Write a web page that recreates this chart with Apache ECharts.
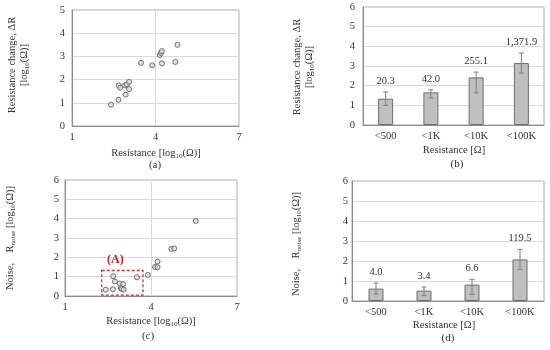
<!DOCTYPE html>
<html><head><meta charset="utf-8">
<script src="https://cdn.jsdelivr.net/npm/echarts@6/dist/echarts.min.js"></script>
<style>html,body{margin:0;padding:0;background:#fff}#c{width:550px;height:350px}</style>
</head><body><div id="c"></div>
<script>
// ---- data ----
const scatterA_x = [2.40,2.67,2.68,2.73,2.93,2.91,2.97,3.05,3.05,3.48,3.88,4.23,4.15,4.20,4.23,4.71,4.79];
const scatterA_y = [0.92,1.13,1.75,1.65,1.35,1.75,1.80,1.90,1.59,2.72,2.62,2.70,3.06,3.15,3.23,2.76,3.50];
const scatterC_x = [2.42,2.67,2.68,2.74,2.91,3.03,2.95,2.98,3.05,3.51,3.89,4.14,4.23,4.23,4.71,4.81,5.56];
const scatterC_y = [0.33,0.35,1.02,0.75,0.64,0.61,0.41,0.36,0.33,0.97,1.09,1.50,1.49,1.78,2.44,2.46,3.88];
const categories = ['<500','<1K','<10K','<100K'];
const barB = [1.34,1.66,2.42,3.15];
const errB_low = [1.00,1.38,1.63,2.64];
const errB_high = [1.68,1.79,2.69,3.66];
const labelsB = ['20.3','42.0','255.1','1,371.9'];
const barD = [0.62,0.52,0.82,2.08];
const errD_low = [0.34,0.27,0.32,1.58];
const errD_high = [0.90,0.70,1.08,2.58];
const labelsD = ['4.0','3.4','6.6','119.5'];
const boxA_x = [2.28,3.72];
const boxA_y = [0.05,1.32];
const logTicks = [1,4,7];

const FF = '"Liberation Serif","Times New Roman",serif';
const TXT = '#333';
const chart = echarts.init(document.getElementById('c'), null, {renderer:'canvas'});

function valAxisX(gi){
  return {type:'value', gridIndex:gi, min:1, max:7, interval:3,
    axisLine:{show:true, lineStyle:{color:'#8c8c8c'}}, axisTick:{show:false},
    axisLabel:{fontFamily:FF, fontSize:10.5, color:TXT, margin:6},
    splitLine:{show:true, lineStyle:{color:'#d9d9d9'}}};
}
function valAxisY(gi, max, margin){
  return {type:'value', gridIndex:gi, min:0, max:max, interval:1,
    axisLine:{show:true, lineStyle:{color:'#8c8c8c'}}, axisTick:{show:false},
    axisLabel:{fontFamily:FF, fontSize:10.5, color:TXT, margin:margin},
    splitLine:{show:true, lineStyle:{color:'#d9d9d9'}}};
}
function catAxis(gi){
  return {type:'category', gridIndex:gi, data:categories,
    axisLine:{show:true, lineStyle:{color:'#8c8c8c'}}, axisTick:{show:false},
    axisLabel:{fontFamily:FF, fontSize:10.5, color:TXT, margin:6}};
}
function errSeries(ai, low, high, labels){
  return {type:'custom', xAxisIndex:ai, yAxisIndex:ai, z:5,
    data: categories.map((c,i)=>[i, low[i], high[i]]),
    renderItem:function(params, api){
      const i = api.value(0);
      const p1 = api.coord([i, api.value(1)]);
      const p2 = api.coord([i, api.value(2)]);
      const cw = 2.5;
      const st = {stroke:'#7f7f7f', lineWidth:1};
      return {type:'group', children:[
        {type:'line', shape:{x1:p1[0],y1:p1[1],x2:p2[0],y2:p2[1]}, style:st},
        {type:'line', shape:{x1:p1[0]-cw,y1:p1[1],x2:p1[0]+cw,y2:p1[1]}, style:st},
        {type:'line', shape:{x1:p2[0]-cw,y1:p2[1],x2:p2[0]+cw,y2:p2[1]}, style:st},
        {type:'text', x:p2[0], y:p2[1]-11, style:{text:labels[params.dataIndex], fill:TXT,
          font:'10.5px '+FF, align:'center', verticalAlign:'middle'}}
      ]};
    }};
}
const scatterStyle = {color:'#d9d9d9', borderColor:'#555', borderWidth:1};
const rich = {
  n:{fontFamily:FF, fontSize:10.5, fill:TXT, color:TXT, lineHeight:14},
  s:{fontFamily:FF, fontSize:7, fill:TXT, color:TXT, lineHeight:7, verticalAlign:'bottom'}
};
function T(x,y,text,rot){
  return {type:'text', x:x, y:y, rotation: rot? Math.PI/2 : 0,
    style:{text:text, rich:rich, align:'center', verticalAlign:'middle', fill:TXT, font:'10.5px '+FF}};
}
const logName = '{n|Resistance [log}{s|10}{n|(Ω)]}';
const noiseName = '{n|Noise,    R}{s|noise}{n| [log}{s|10}{n|(Ω)]}';

chart.setOption({
  animation:false,
  grid:[
    {left:72, top:10, width:167, height:116, show:true, borderColor:'#a6a6a6', borderWidth:1},
    {left:363, top:7, width:181, height:118, show:true, borderColor:'#a6a6a6', borderWidth:1},
    {left:65, top:180, width:172, height:116, show:true, borderColor:'#a6a6a6', borderWidth:1},
    {left:352, top:181, width:192, height:120, show:true, borderColor:'#a6a6a6', borderWidth:1}
  ],
  xAxis:[valAxisX(0), catAxis(1), valAxisX(2), catAxis(3)],
  yAxis:[valAxisY(0,5,7), valAxisY(1,6,8), valAxisY(2,6,6), valAxisY(3,6,4)],
  series:[
    {type:'scatter', xAxisIndex:0, yAxisIndex:0, symbol:'circle', symbolSize:5,
      itemStyle:scatterStyle, data:scatterA_x.map((x,i)=>[x, scatterA_y[i]])},
    {type:'bar', xAxisIndex:1, yAxisIndex:1, barWidth:15, data:barB,
      itemStyle:{color:'#bfbfbf', borderColor:'#6f6f6f', borderWidth:1}},
    errSeries(1, errB_low, errB_high, labelsB),
    {type:'scatter', xAxisIndex:2, yAxisIndex:2, symbol:'circle', symbolSize:5,
      itemStyle:scatterStyle, data:scatterC_x.map((x,i)=>[x, scatterC_y[i]]),
      markArea:{silent:true,
        itemStyle:{color:'rgba(0,0,0,0)', borderColor:'#c0392b', borderWidth:1.3, borderType:[3,2]},
        label:{show:true, position:'top', formatter:'(A)', color:'#b22222', fontWeight:'bold',
          fontFamily:FF, fontSize:12, offset:[-7,-1], distance:3},
        data:[[{coord:[boxA_x[0], boxA_y[1]]},{coord:[boxA_x[1], boxA_y[0]]}]]}},
    {type:'bar', xAxisIndex:3, yAxisIndex:3, barWidth:15, data:barD,
      itemStyle:{color:'#bfbfbf', borderColor:'#6f6f6f', borderWidth:1}},
    errSeries(3, errD_low, errD_high, labelsD)
  ],
  graphic:[
    {type:'text', x:12, y:65, rotation:Math.PI/2, style:{text:'Resistance change, ΔR', font:'10.5px '+FF, fill:TXT, align:'center', verticalAlign:'middle'}},
    T(24,65,'{n|[log}{s|10}{n|(Ω)]}',true),
    T(156,153,logName,false),
    {type:'text', x:155, y:165, style:{text:'(a)', font:'11px '+FF, fill:TXT, align:'center', verticalAlign:'middle'}},
    {type:'text', x:297, y:67, rotation:Math.PI/2, style:{text:'Resistance change, ΔR', font:'10.5px '+FF, fill:TXT, align:'center', verticalAlign:'middle'}},
    T(309,67,'{n|[log}{s|10}{n|(Ω)]}',true),
    {type:'text', x:454, y:150, style:{text:'Resistance [Ω]', font:'10.5px '+FF, fill:TXT, align:'center', verticalAlign:'middle'}},
    {type:'text', x:457, y:164, style:{text:'(b)', font:'11px '+FF, fill:TXT, align:'center', verticalAlign:'middle'}},
    T(10,238,noiseName,true),
    T(151,321,logName,false),
    {type:'text', x:148, y:336, style:{text:'(c)', font:'11px '+FF, fill:TXT, align:'center', verticalAlign:'middle'}},
    T(296,244,noiseName,true),
    {type:'text', x:444, y:325, style:{text:'Resistance [Ω]', font:'10.5px '+FF, fill:TXT, align:'center', verticalAlign:'middle'}},
    {type:'text', x:448, y:338, style:{text:'(d)', font:'11px '+FF, fill:TXT, align:'center', verticalAlign:'middle'}}
  ]
});
</script></body></html>
